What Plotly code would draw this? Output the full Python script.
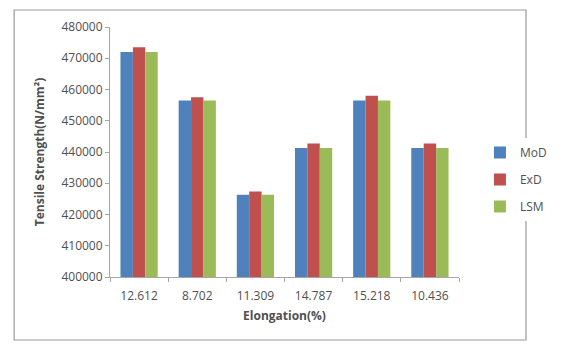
import plotly.graph_objects as go

categories = ["12.612", "8.702", "11.309", "14.787", "15.218", "10.436"]
mod_vals = [472000, 456500, 426300, 441300, 456500, 441300]
exd_vals = [473500, 457500, 427400, 442700, 458000, 442700]
lsm_vals = [472000, 456500, 426300, 441300, 456500, 441300]
y_ticks = [400000, 410000, 420000, 430000, 440000, 450000, 460000, 470000, 480000]

W, H = 564, 346
L, R, T, B = 110, 79, 27, 69
pw, ph = W - L - R, H - T - B

txt = "#505050"
font = dict(family="Open Sans, DejaVu Sans, sans-serif", size=12, color=txt)

fig = go.Figure()
for name, vals, color in [("MoD", mod_vals, "#4F81BD"),
                          ("ExD", exd_vals, "#C0504D"),
                          ("LSM", lsm_vals, "#9BBB59")]:
    fig.add_trace(go.Bar(x=categories, y=vals, name=name, marker_color=color,
                         marker_line_width=0, legendgroup=name))

# outer chart border
fig.add_shape(type="rect", xref="paper", yref="paper",
              x0=(7 - L) / pw, x1=(557 - L) / pw,
              y0=(H - B - 340) / ph, y1=(H - B - 10) / ph,
              line=dict(color="#9a9a9a", width=1.2), layer="below")

fig.update_layout(
    width=W, height=H,
    margin=dict(l=L, r=R, t=T, b=B),
    paper_bgcolor="white", plot_bgcolor="white",
    font=font,
    barmode="group", bargap=0.36, bargroupgap=0,
    showlegend=True,
    legend=dict(x=1.06, y=0.39, xanchor="left", yanchor="middle",
                font=dict(size=12, color=txt), itemwidth=30,
                tracegroupgap=8, traceorder="grouped"),
    xaxis=dict(type="category", showline=True, linecolor="#a6a6a6",
               ticks="outside", tickson="boundaries", ticklen=4,
               tickcolor="#a6a6a6", showgrid=False, ticklabelstandoff=8,
               tickfont=dict(size=12, color=txt),
               title=dict(text="<b>Elongation(%)</b>", standoff=8,
                          font=dict(size=12, color=txt))),
    yaxis=dict(range=[400000, 480000], tickvals=y_ticks, tickformat="d",
               showline=True, linecolor="#a6a6a6", ticks="outside",
               ticklen=4, tickcolor="#a6a6a6", showgrid=False,
               tickfont=dict(size=12, color=txt),
               title=dict(text="<b>Tensile Strength(N/mm²)</b>", standoff=14,
                          font=dict(size=12, color=txt))),
)

fig.write_html("out.html")
